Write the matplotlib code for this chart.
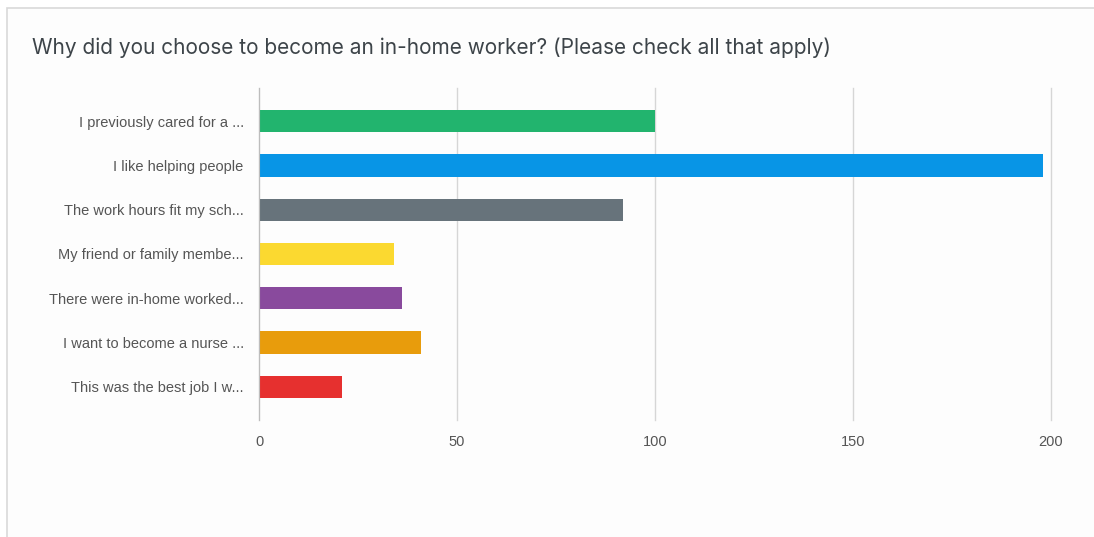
import matplotlib
matplotlib.use("Agg")
import matplotlib.pyplot as plt
from matplotlib.patches import Rectangle

title = "Why did you choose to become an in-home worker? (Please check all that apply)"
categories = [
    "I previously cared for a ...",
    "I like helping people",
    "The work hours fit my sch...",
    "My friend or family membe...",
    "There were in-home worked...",
    "I want to become a nurse ...",
    "This was the best job I w...",
]
counts = [100, 198, 92, 34, 36, 41, 21]
colors = ["#22b46e", "#0895e6", "#67737b", "#fbd930", "#894a9d", "#e89c0c", "#e6302f"]
xticks = [0, 50, 100, 150, 200]

W, H = 1094, 537
fig = plt.figure(figsize=(W / 100, H / 100), dpi=100)
fig.patch.set_facecolor("white")

# card background and border
card = Rectangle((7 / W, -0.01), 1.2, 1 - 8 / H + 0.01, transform=fig.transFigure,
                 facecolor="#fdfdfd", edgecolor="#d9d9d9", linewidth=1.2, zorder=-5)
fig.patches.append(card)

fig.text(32 / W, 1 - 48 / H, title, fontsize=15, family="Inter", color="#3d4449",
         va="center", ha="left")

ax = fig.add_axes([259 / W, 1 - 420 / H, (1051 - 259) / W, (420 - 88) / H])
ax.set_zorder(2)
ax.set_facecolor("none")
y = list(range(len(categories)))
ax.barh(y, counts, height=0.5, color=colors, zorder=3)
ax.set_ylim(len(categories) - 0.25, -0.75)
ax.set_xlim(0, 200)
ax.set_xticks(xticks)
ax.set_xticklabels([str(t) for t in xticks])
ax.set_yticks(y)
ax.set_yticklabels(categories)
ax.grid(axis="x", color="#d6d6d6", linewidth=1, zorder=0)
for gl in ax.xaxis.get_gridlines():
    gl.set_clip_on(False)
for s in ["top", "right", "bottom"]:
    ax.spines[s].set_visible(False)
ax.spines["left"].set_color("#bdbdbd")
ax.spines["left"].set_zorder(4)
ax.tick_params(axis="both", length=0, labelsize=10.5, colors="#555555")
ax.tick_params(axis="y", pad=11)
ax.tick_params(axis="x", pad=11)
for lbl in ax.get_yticklabels() + ax.get_xticklabels():
    lbl.set_family("Liberation Sans")

fig.savefig("out.png", dpi=100)
